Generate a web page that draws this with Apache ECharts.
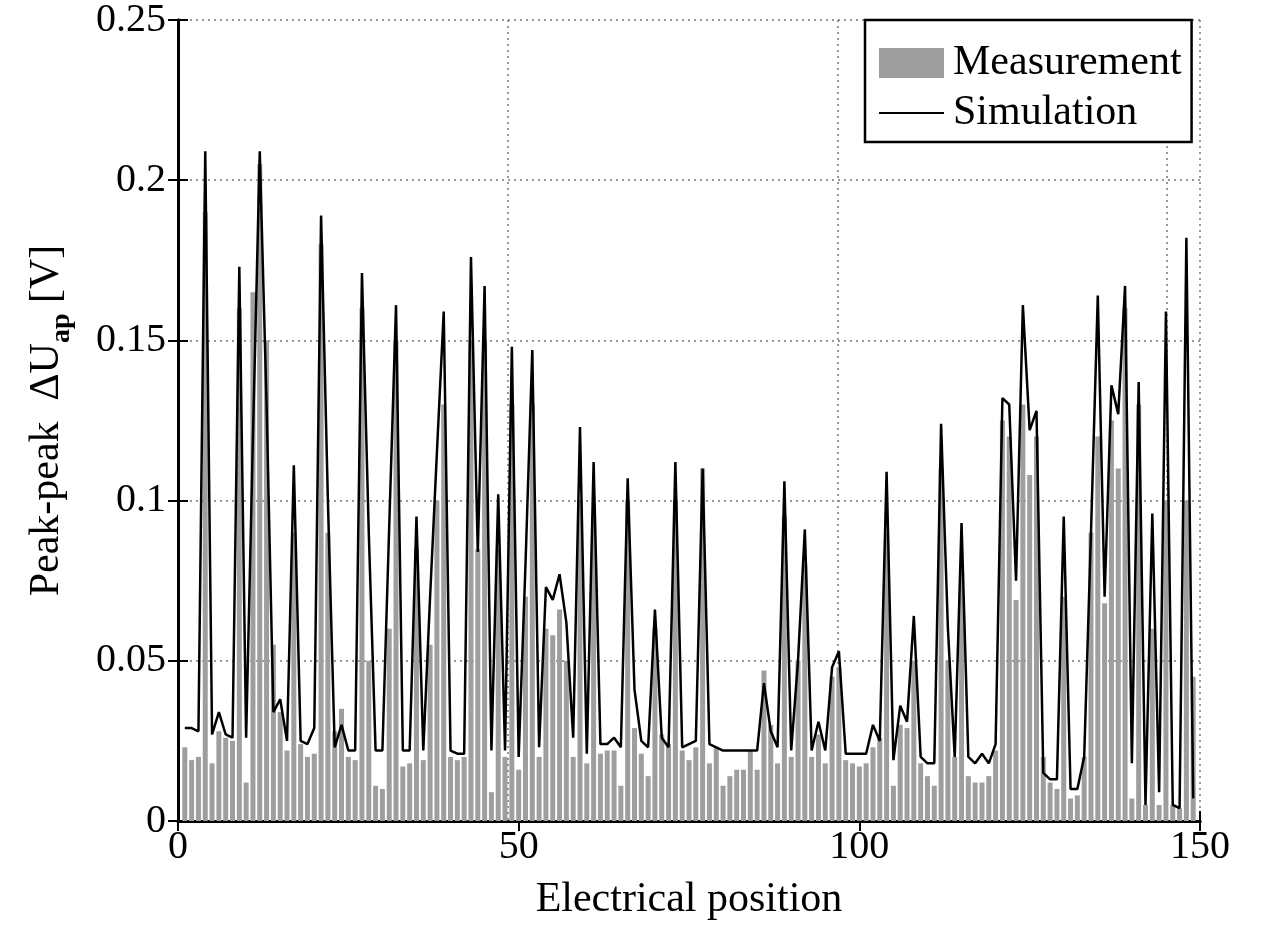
<!DOCTYPE html>
<html><head><meta charset="utf-8">
<script src="https://cdn.jsdelivr.net/npm/echarts@6/dist/echarts.min.js"></script>
<style>html,body{margin:0;padding:0;background:#fff}#c{width:1261px;height:926px}</style>
</head><body><div id="c"></div>
<script>
// Electrical positions start at 1
const firstPosition = 1;
const xTicks = [0, 50, 100, 150];
const yTicks = [0, 0.05, 0.1, 0.15, 0.2, 0.25];

// Measurement (bars), positions 1..149
const measurement = [
0.023,0.019,0.020,0.190,0.018,0.028,0.026,0.025,0.160,0.012,
0.165,0.205,0.150,0.055,0.034,0.022,0.090,0.024,0.020,0.021,
0.180,0.090,0.028,0.035,0.020,0.019,0.160,0.050,0.011,0.010,
0.060,0.150,0.017,0.018,0.085,0.019,0.055,0.100,0.130,0.020,
0.019,0.020,0.150,0.085,0.150,0.009,0.085,0.020,0.130,0.016,
0.070,0.130,0.020,0.060,0.058,0.066,0.050,0.020,0.100,0.018,
0.095,0.021,0.022,0.022,0.011,0.100,0.029,0.021,0.014,0.060,
0.027,0.024,0.100,0.022,0.019,0.023,0.110,0.018,0.023,0.011,
0.014,0.016,0.016,0.022,0.016,0.047,0.030,0.018,0.095,0.020,
0.050,0.080,0.020,0.027,0.018,0.045,0.048,0.019,0.018,0.017,
0.018,0.023,0.026,0.090,0.011,0.030,0.029,0.050,0.018,0.014,
0.011,0.110,0.050,0.020,0.080,0.014,0.012,0.012,0.014,0.022,
0.125,0.120,0.069,0.130,0.108,0.120,0.020,0.012,0.010,0.070,
0.007,0.008,0.020,0.090,0.120,0.068,0.125,0.110,0.160,0.007,
0.130,0.005,0.060,0.005,0.100,0.005,0.004,0.100,0.045
];

// Simulation (line), positions 1..149
const simulation = [
0.029,0.029,0.028,0.209,0.027,0.034,0.027,0.026,0.173,0.026,
0.120,0.209,0.130,0.034,0.038,0.025,0.111,0.025,0.024,0.029,
0.189,0.100,0.023,0.030,0.022,0.022,0.171,0.090,0.022,0.022,
0.092,0.161,0.022,0.022,0.095,0.022,0.070,0.115,0.159,0.022,
0.021,0.021,0.176,0.084,0.167,0.022,0.102,0.022,0.148,0.020,
0.080,0.147,0.023,0.073,0.069,0.077,0.062,0.026,0.123,0.021,
0.112,0.024,0.024,0.026,0.023,0.107,0.041,0.025,0.023,0.066,
0.026,0.023,0.112,0.023,0.024,0.025,0.110,0.024,0.023,0.022,
0.022,0.022,0.022,0.022,0.022,0.043,0.028,0.023,0.106,0.022,
0.050,0.091,0.022,0.031,0.022,0.048,0.053,0.021,0.021,0.021,
0.021,0.030,0.025,0.109,0.019,0.036,0.031,0.064,0.020,0.018,
0.018,0.124,0.060,0.020,0.093,0.020,0.018,0.021,0.018,0.024,
0.132,0.130,0.075,0.161,0.122,0.128,0.015,0.013,0.013,0.095,
0.010,0.010,0.020,0.090,0.164,0.070,0.136,0.127,0.167,0.018,
0.137,0.005,0.096,0.009,0.159,0.005,0.004,0.182,0.007
];

const FONT = '"Liberation Serif","Times New Roman",serif';
const barData = measurement.map((v, i) => [firstPosition + i, v]);
const lineData = simulation.map((v, i) => [firstPosition + i, v]);

const chart = echarts.init(document.getElementById('c'), null, {renderer: 'canvas'});
const axisLine = {show: true, lineStyle: {color: '#000', width: 3}};
const tick = {show: true, inside: true, length: 10, lineStyle: {color: '#000', width: 2}};
const dotted = {show: true, lineStyle: {color: '#777', width: 1.5, type: [2, 4]}};

chart.setOption({
  animation: false,
  backgroundColor: '#fff',
  grid: {left: 178, right: 61, top: 20, bottom: 100, containLabel: false},
  legend: {
    orient: 'vertical', left: 865, top: 20,
    padding: [22, 10, 8, 13], itemGap: 8,
    itemWidth: 65, itemHeight: 30,
    backgroundColor: '#fff', borderColor: '#000', borderWidth: 2.5,
    textStyle: {fontFamily: FONT, fontSize: 42, color: '#000', lineHeight: 40, padding: [0, 0, 0, 4]},
    data: [
      {name: 'Measurement', icon: 'rect'},
      {name: 'Simulation', itemStyle: {opacity: 0}}
    ]
  },
  xAxis: [
    {type: 'value', position: 'bottom', min: xTicks[0], max: xTicks[xTicks.length - 1], interval: 50,
     axisLine, axisTick: tick, splitLine: {show: false},
     axisLabel: {fontFamily: FONT, fontSize: 40, color: '#000', margin: 6},
     name: 'Electrical position', nameLocation: 'middle', nameGap: 58,
     nameTextStyle: {fontFamily: FONT, fontSize: 42, color: '#000'}},
    {type: 'value', position: 'top', min: 0, max: 150, interval: 50,
     axisLine, axisTick: tick, axisLabel: {show: false}, splitLine: {show: false}},
    {type: 'value', position: 'bottom', min: 0, max: 155, interval: 50,
     axisLine: {show: false}, axisTick: {show: false}, axisLabel: {show: false}, splitLine: dotted}
  ],
  yAxis: [
    {type: 'value', position: 'left', min: yTicks[0], max: yTicks[yTicks.length - 1], interval: 0.05,
     axisLine, axisTick: tick, splitLine: dotted,
     axisLabel: {fontFamily: FONT, fontSize: 40, color: '#000', margin: 12},
     name: '{a|Peak-peak  ΔU}{b|ap}{a| [V]}', nameLocation: 'middle', nameRotate: 90, nameGap: 106,
     nameTextStyle: {rich: {
       a: {fontFamily: FONT, fontSize: 42, color: '#000', verticalAlign: 'top', lineHeight: 46},
       b: {fontFamily: FONT, fontSize: 28, fontWeight: 'bold', color: '#000', verticalAlign: 'top', lineHeight: 46, padding: [22, 0, 0, 0]}
     }}},
    {type: 'value', position: 'right', min: 0, max: 0.25, interval: 0.05,
     axisLine, axisTick: tick, axisLabel: {show: false}, splitLine: {show: false}}
  ],
  series: [
    {name: 'Measurement', type: 'bar', xAxisIndex: 0, yAxisIndex: 0, data: barData,
     barWidth: 5, itemStyle: {color: '#9e9e9e'}, z: 2},
    {name: 'Simulation', type: 'line', xAxisIndex: 0, yAxisIndex: 0, data: lineData,
     symbol: 'none', showSymbol: false, lineStyle: {color: '#000', width: 2.5}, itemStyle: {color: '#000'}, z: 3}
  ]
});
</script></body></html>
